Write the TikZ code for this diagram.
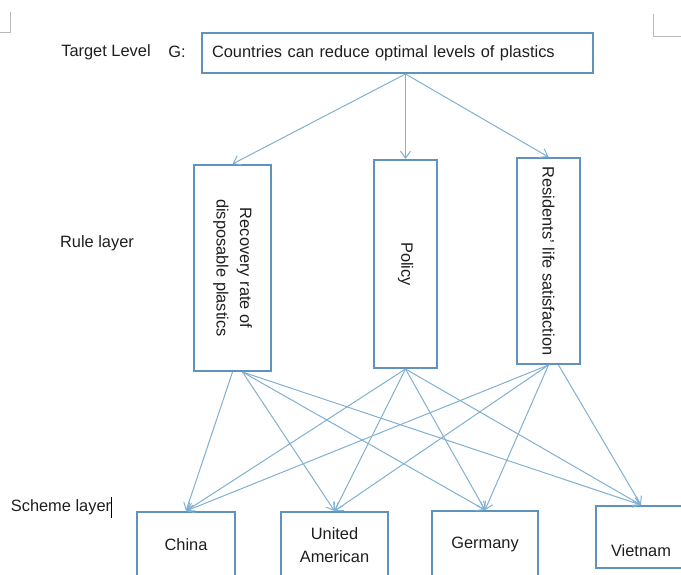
\documentclass[tikz,border=0pt]{standalone}
\usepackage{fontspec}
\setmainfont{Liberation Sans}
\usetikzlibrary{arrows.meta}

\definecolor{boxblue}{RGB}{96,146,190}
\definecolor{linkblue}{RGB}{128,176,210}
\definecolor{inkgrey}{RGB}{30,30,30}
\definecolor{markgrey}{RGB}{185,185,185}

\begin{document}
\begin{tikzpicture}[x=1pt,y=-1pt,
  every node/.style={text=inkgrey,font=\fontsize{16.4}{23.5}\selectfont},
  layerbox/.style={draw=boxblue,line width=2pt,shape=rectangle,inner sep=0pt,align=center},
  link/.style={draw=linkblue,line width=1pt,-{Straight Barb[length=7pt,width=10pt]}}]

  \useasboundingbox (0,0) rectangle (681,574);
  \clip (0,0) rectangle (681,574);

  % page corner marks
  \draw[markgrey,line width=1pt] (10,12) -- (10,32) -- (0,32);
  \draw[markgrey,line width=1pt] (653,14) -- (653,36) -- (681,36);

  \draw (106,52) node (target) {Target Level};
  \draw (177,52) node (glabel) {G:};
  \draw (97,243) node (rulelabel) {Rule layer};
  \draw (61,507) node (schemelabel) {Scheme layer};
  \draw[black,line width=0.8pt] (111,497) -- (111,518);

  \draw (397.5,53) node [layerbox,minimum height=40pt,text width=371pt,inner xsep=10pt,align=left] (goal)
  {Countries can reduce optimal levels of plastics};

  \draw (232.5,268) node [layerbox,rotate=-90,minimum width=206pt,minimum height=77pt] (rleft)
  {Recovery rate of\\disposable plastics};

  \draw (405.5,264) node [layerbox,rotate=-90,minimum width=208pt,minimum height=63pt] (rmid)
  {Policy};

  \draw (548.5,261) node [layerbox,rotate=-90,minimum width=206pt,minimum height=63pt] (rright)
  {Residents' life satisfaction};

  \draw (186,545) node [layerbox,minimum width=98pt,minimum height=66pt] (china) {China};
  \draw (334.5,545) node [layerbox,minimum width=107pt,minimum height=66pt] (usa) {United\\American};
  \draw (485,544) node [layerbox,minimum width=106pt,minimum height=66pt] (germany) {Germany};
  \draw (641,537) node [layerbox,minimum width=90pt,minimum height=62pt] (vietnam)
  {\raisebox{-19pt}[0pt][0pt]{Vietnam}};

  \coordinate (gfoot) at (goal.south -| rmid.west);
  \coordinate (lfoot) at ([xshift=10pt]rleft.east);
  \coordinate (rfoot) at ([xshift=10pt]rright.east);

  \draw[link] (gfoot) -- (rleft.west);
  \draw[link] (gfoot) -- (rmid.west);
  \draw[link] (gfoot) -- (rright.west);

  \draw[link] (rleft.east) -- (china.north);
  \draw[link] (lfoot) -- (usa.north);
  \draw[link] (lfoot) -- (germany.north);
  \draw[link] (lfoot) -- (vietnam.north);
  \draw[link] (rmid.east) -- (china.north);
  \draw[link] (rmid.east) -- (usa.north);
  \draw[link] (rmid.east) -- (germany.north);
  \draw[link] (rmid.east) -- (vietnam.north);
  \draw[link] (rright.east) -- (china.north);
  \draw[link] (rright.east) -- (usa.north);
  \draw[link] (rright.east) -- (germany.north);
  \draw[link] (rfoot) -- (vietnam.north);

\end{tikzpicture}
\end{document}
